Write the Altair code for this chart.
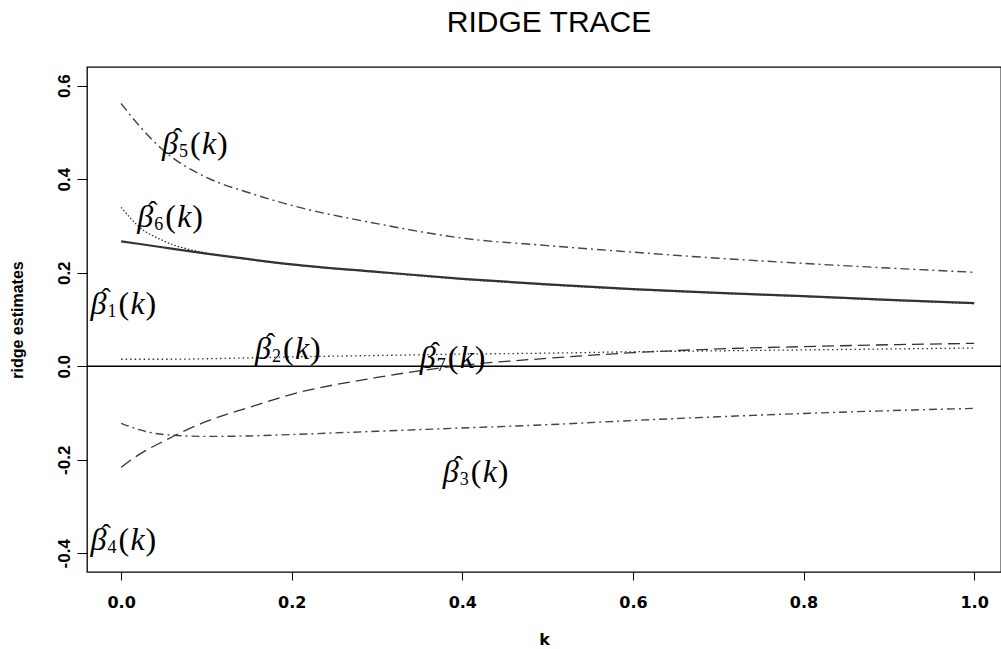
import altair as alt
import pandas as pd

# ---- data ----
K = [0.0, 0.02, 0.05, 0.1, 0.15, 0.2, 0.3, 0.4, 0.5, 0.6, 0.7, 0.8, 0.9, 1.0]
beta1 = [0.267, 0.262, 0.254, 0.241, 0.229, 0.218, 0.202, 0.187, 0.175, 0.165, 0.157, 0.150, 0.142, 0.135]
beta2 = [0.015, 0.015, 0.015, 0.016, 0.018, 0.020, 0.023, 0.026, 0.028, 0.031, 0.033, 0.035, 0.037, 0.039]
beta3 = [-0.122, -0.135, -0.146, -0.150, -0.149, -0.146, -0.139, -0.132, -0.125, -0.116, -0.108, -0.101, -0.095, -0.090]
beta5 = [0.562, 0.517, 0.461, 0.404, 0.371, 0.344, 0.305, 0.274, 0.258, 0.244, 0.231, 0.220, 0.210, 0.201]
beta6 = [0.340, 0.300, 0.268, 0.242, 0.228, 0.217, 0.201, 0.186, 0.174, 0.164, 0.156, 0.149, 0.141, 0.134]
beta7 = [-0.216, -0.190, -0.160, -0.118, -0.088, -0.060, -0.024, 0.002, 0.017, 0.029, 0.037, 0.042, 0.046, 0.049]

# labels: beta-hat with subscript and (k); positions are the text baseline in data units
label_sub = ["1", "2", "3", "4", "5", "6", "7"]
label_k = [-0.036, 0.157, 0.377, -0.036, 0.048, 0.019, 0.350]
label_v = [0.111, 0.015, -0.248, -0.393, 0.453, 0.297, -0.004]

x_ticks = [0.0, 0.2, 0.4, 0.6, 0.8, 1.0]
y_ticks = [-0.4, -0.2, 0.0, 0.2, 0.4, 0.6]

title_text = "RIDGE TRACE"

# ---- scales / axes ----
xs = alt.Scale(domain=[-0.04, 1.0315], nice=False, zero=False)
ys = alt.Scale(domain=[-0.44, 0.64], nice=False, zero=False)

xaxis = alt.Axis(values=x_ticks, format=".1f", domain=False, grid=False,
                 tickSize=8, tickColor="black", tickWidth=1,
                 labelFont="DejaVu Sans", labelFontWeight="bold", labelFontSize=16,
                 labelColor="black", labelPadding=14, labelFlush=False, labelOverlap=False,
                 title="k", titleFont="DejaVu Sans", titleFontWeight="bold", titleFontSize=16,
                 titleColor="black", titleY=72, titleBaseline="alphabetic")
yaxis = alt.Axis(values=y_ticks, domain=False, grid=False,
                 labelExpr="datum.value < 0 ? '-' + format(-datum.value, '.1f') : format(datum.value, '.1f')",
                 tickSize=10, tickColor="black", tickWidth=1,
                 labelFont="Liberation Sans", labelFontWeight="bold", labelFontSize=17,
                 labelColor="black", labelAngle=270, labelAlign="center", labelBaseline="alphabetic",
                 labelPadding=8, labelFlush=False, labelOverlap=False,
                 title="ridge estimates", titleFont="Liberation Sans", titleFontWeight="bold",
                 titleFontSize=16, titleColor="black", titleAngle=270, titleAlign="center",
                 titleBaseline="alphabetic", titleX=-65, titleY=252.5)

X = alt.X("k:Q", scale=xs, axis=xaxis)
Y = alt.Y("v:Q", scale=ys, axis=yaxis)

styles = [
    (beta6, [1.5, 2], "#222222", 1.2),
    (beta5, [9, 4, 2, 4], "#444444", 1.4),
    (beta3, [8, 4, 2, 4], "#444444", 1.4),
    (beta7, [12, 6], "#333333", 1.3),
    (beta2, [1.5, 3], "#333333", 1.3),
    (beta1, None, "#333333", 2.2),
]

layers = []
for vals, dash, col, w in styles:
    kw = dict(color=col, strokeWidth=w, interpolate="monotone")
    if dash is not None:
        kw["strokeDash"] = dash
    layers.append(alt.Chart(pd.DataFrame({"k": K, "v": vals})).mark_line(**kw).encode(x=X, y=Y))

zero_line = alt.Chart(pd.DataFrame({"v": [0.0]})).mark_rule(color="black", strokeWidth=1.5).encode(y=Y)

lab_df = pd.DataFrame({
    "k": label_k, "v": label_v, "sub": label_sub,
    "beta": ["β"] * 7, "hat": ["ˆ"] * 7, "lp": ["("] * 7, "kk": ["k"] * 7, "rp": [")"] * 7,
})
lab_base = alt.Chart(lab_df)
label_parts = [
    ("beta", dict(fontStyle="italic", fontSize=32, dx=0, dy=0)),
    ("hat", dict(fontSize=28, dx=11, dy=-7)),
    ("sub", dict(fontSize=18, dx=17, dy=3)),
    ("lp", dict(fontSize=32, dx=28, dy=0)),
    ("kk", dict(fontStyle="italic", fontSize=32, dx=40, dy=0)),
    ("rp", dict(fontSize=32, dx=55, dy=0)),
]
label_layers = []
for field, kw in label_parts:
    label_layers.append(
        lab_base.mark_text(font="Liberation Serif", align="left", baseline="alphabetic",
                           color="black", **kw).encode(x=X, y=Y, text=f"{field}:N")
    )

title = alt.Chart(pd.DataFrame({"t": [title_text]})).mark_text(
    font="Liberation Sans", fontSize=30, align="center", baseline="alphabetic", color="black"
).encode(x=alt.value(462), y=alt.value(-35), text="t:N")

chart = alt.layer(zero_line, *layers, *label_layers, title).properties(
    width=914, height=505,
    autosize=alt.AutoSizeParams(type="none"),
    padding={"left": 87, "top": 67, "right": 0, "bottom": 77},
    background="white",
).configure_view(stroke="black", strokeWidth=1.3)

chart.save("out.html", embed_options={"renderer": "svg", "actions": False})
